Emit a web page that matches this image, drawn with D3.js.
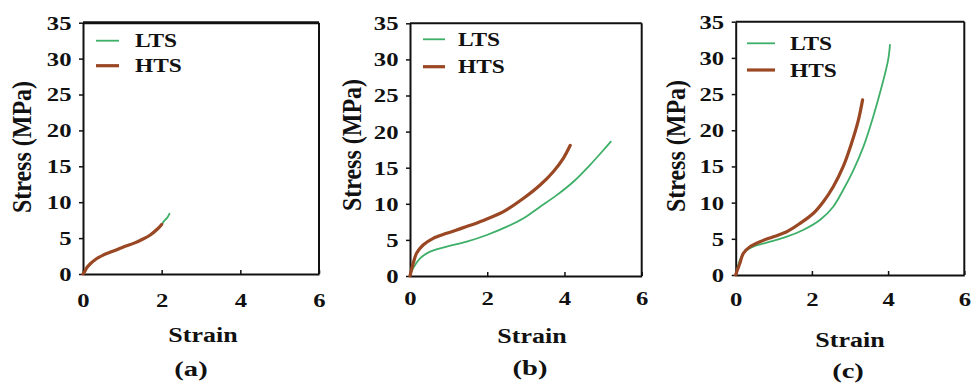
<!DOCTYPE html>
<html><head><meta charset="utf-8">
<script src="https://cdn.jsdelivr.net/npm/d3@7"></script>
<style>
html,body{margin:0;padding:0;background:#fff;}
</style></head>
<body>
<svg id="chart" width="971" height="385"></svg>
<script>
// ---- data ----
const panelNames = ["(a)", "(b)", "(c)"];
const seriesNames = ["LTS", "HTS"];
const xTicks = [0, 2, 4, 6];
const yTicks = [0, 5, 10, 15, 20, 25, 30, 35];
const xTitle = "Strain";
const yTitle = "Stress (MPa)";

// panel (a)
const ltsA = [[0,0],[0.05,0.4],[0.1,0.9],[0.2,1.5],[0.3,1.95],[0.4,2.3],[0.5,2.6],[0.7,3.05],[1.0,3.7],[1.3,4.3],[1.5,4.8],[1.7,5.4],[1.9,6.3],[2.0,6.9],[2.05,7.3],[2.1,7.6],[2.15,7.9],[2.2,8.4]];
const htsA = [[0,0],[0.05,0.4],[0.1,0.9],[0.2,1.5],[0.3,1.95],[0.4,2.3],[0.5,2.6],[0.7,3.05],[1.0,3.7],[1.3,4.3],[1.5,4.8],[1.7,5.4],[1.9,6.3],[2.0,6.9]];
// panel (b)
const ltsB = [[0,0],[0.05,0.8],[0.13,1.5],[0.26,2.45],[0.52,3.37],[0.95,4.06],[1.47,4.75],[1.99,5.68],[2.51,6.83],[2.94,7.99],[3.37,9.6],[3.8,11.2],[4.23,13.06],[4.66,15.37],[5.01,17.45],[5.2,18.6]];
const htsB = [[0,0],[0.04,0.9],[0.085,1.8],[0.17,3.14],[0.34,4.29],[0.6,5.22],[0.95,5.91],[1.38,6.7],[1.9,7.7],[2.42,8.91],[2.94,10.76],[3.37,12.6],[3.71,14.45],[3.97,16.3],[4.15,18.1]];
// panel (c)
const ltsC = [[0,0],[0.05,1.0],[0.11,2.07],[0.24,3.22],[0.46,3.91],[0.9,4.6],[1.34,5.29],[1.77,6.22],[2.21,7.6],[2.56,9.44],[2.82,11.75],[3.09,14.5],[3.35,17.7],[3.61,21.9],[3.83,26.0],[4.0,29.7],[4.05,31.8]];
const htsC = [[0,0],[0.05,0.8],[0.11,1.62],[0.2,3.0],[0.375,3.91],[0.64,4.6],[0.99,5.29],[1.34,5.98],[1.69,7.14],[2.04,8.53],[2.3,10.13],[2.56,12.2],[2.82,14.96],[3.04,18.2],[3.22,21.4],[3.33,24.2]];

const panelData = [[ltsA, htsA], [ltsB, htsB], [ltsC, htsC]];

// ---- layout (not data) ----
const layout = [
  {l:83,  r:319,   t:22.7, b:274, frameW:3,   xLabOff:33,   yTitleX:31,  yTitleY:147, stX:203, stY:342, pnX:191, pnY:376, legX1:96,  legX2:119, legTx:135, legY:[40.7,65.7]},
  {l:410, r:641.7, t:23.3, b:276, frameW:2,   xLabOff:29,   yTitleX:361, yTitleY:145, stX:532, stY:343, pnX:530, pnY:375, legX1:423, legX2:445, legTx:458, legY:[39.3,66.7]},
  {l:735.7, r:964.3, t:21.7, b:275, frameW:2, xLabOff:31.5, yTitleX:685, yTitleY:146, stX:850, stY:347, pnX:848, pnY:378, legX1:747, legX2:775, legTx:790, legY:[43.3,70]}
];
const colors = ["#3daf68", "#9a4724"];
const widths = [1.8, 3.2];
const SX = 1.3;
const FONT = '"Liberation Serif", "Times New Roman", serif';

const svg = d3.select("#chart");

function styleText(sel, size) {
  return sel.style("font-family", FONT).style("font-weight", "bold")
    .style("font-size", size + "px").style("fill", "#111");
}

panelData.forEach((series, i) => {
  const L = layout[i];
  const x = d3.scaleLinear().domain([0, 6]).range([L.l, L.r]);
  const y = d3.scaleLinear().domain([0, 35]).range([L.b, L.t]);
  const g = svg.append("g");

  // frame top/right
  g.append("line").attr("x1", L.l).attr("x2", L.r).attr("y1", L.t).attr("y2", L.t)
    .attr("stroke", "#111").attr("stroke-width", L.frameW);
  g.append("line").attr("x1", L.r).attr("x2", L.r).attr("y1", L.t).attr("y2", L.b)
    .attr("stroke", "#111").attr("stroke-width", 2);

  // axes
  const xa = g.append("g").attr("transform", `translate(0,${L.b})`)
    .call(d3.axisBottom(x).tickValues(xTicks).tickFormat(d3.format("d")).tickSizeInner(-4).tickSizeOuter(0));
  styleText(xa.selectAll("text"), 19).attr("y", L.xLabOff).attr("dy", 0)
    .attr("transform", `scale(${SX},1)`);
  const ya = g.append("g").attr("transform", `translate(${L.l},0)`)
    .call(d3.axisLeft(y).tickValues(yTicks).tickFormat(d3.format("d")).tickSize(4).tickSizeOuter(0));
  styleText(ya.selectAll("text"), 19).attr("x", -11.5 / SX).attr("dy", "0.34em")
    .attr("transform", `scale(${SX},1)`);
  [xa, ya].forEach(a => {
    a.select(".domain").attr("stroke", "#111").attr("stroke-width", 2);
    a.selectAll(".tick line").attr("stroke", "#111").attr("stroke-width", 1.5);
  });

  // curves
  const line = d3.line().x(d => x(d[0])).y(d => y(d[1])).curve(d3.curveCatmullRom.alpha(0.5));
  series.forEach((s, k) => {
    g.append("path").datum(s).attr("d", line).attr("fill", "none")
      .attr("stroke", colors[k]).attr("stroke-width", widths[k])
      .attr("stroke-linejoin", "round").attr("stroke-linecap", "round");
  });

  // legend
  seriesNames.forEach((n, k) => {
    g.append("line").attr("x1", L.legX1).attr("x2", L.legX2)
      .attr("y1", L.legY[k]).attr("y2", L.legY[k])
      .attr("stroke", colors[k]).attr("stroke-width", widths[k]);
    styleText(g.append("text"), 18)
      .attr("transform", `translate(${L.legTx},${L.legY[k] + 6.5}) scale(${SX},1)`).text(n);
  });

  // titles
  styleText(g.append("text"), 20).attr("transform", `translate(${L.stX},${L.stY}) scale(${SX},1)`)
    .attr("text-anchor", "middle").text(xTitle);
  styleText(g.append("text"), 24).attr("transform", `translate(${L.yTitleX},${L.yTitleY}) rotate(-90) scale(1,1.15)`)
    .attr("text-anchor", "middle").text(yTitle);
  styleText(g.append("text"), 22).attr("transform", `translate(${L.pnX},${L.pnY}) scale(${SX},1)`)
    .attr("text-anchor", "middle").text(panelNames[i]);
});
</script>
</body></html>
